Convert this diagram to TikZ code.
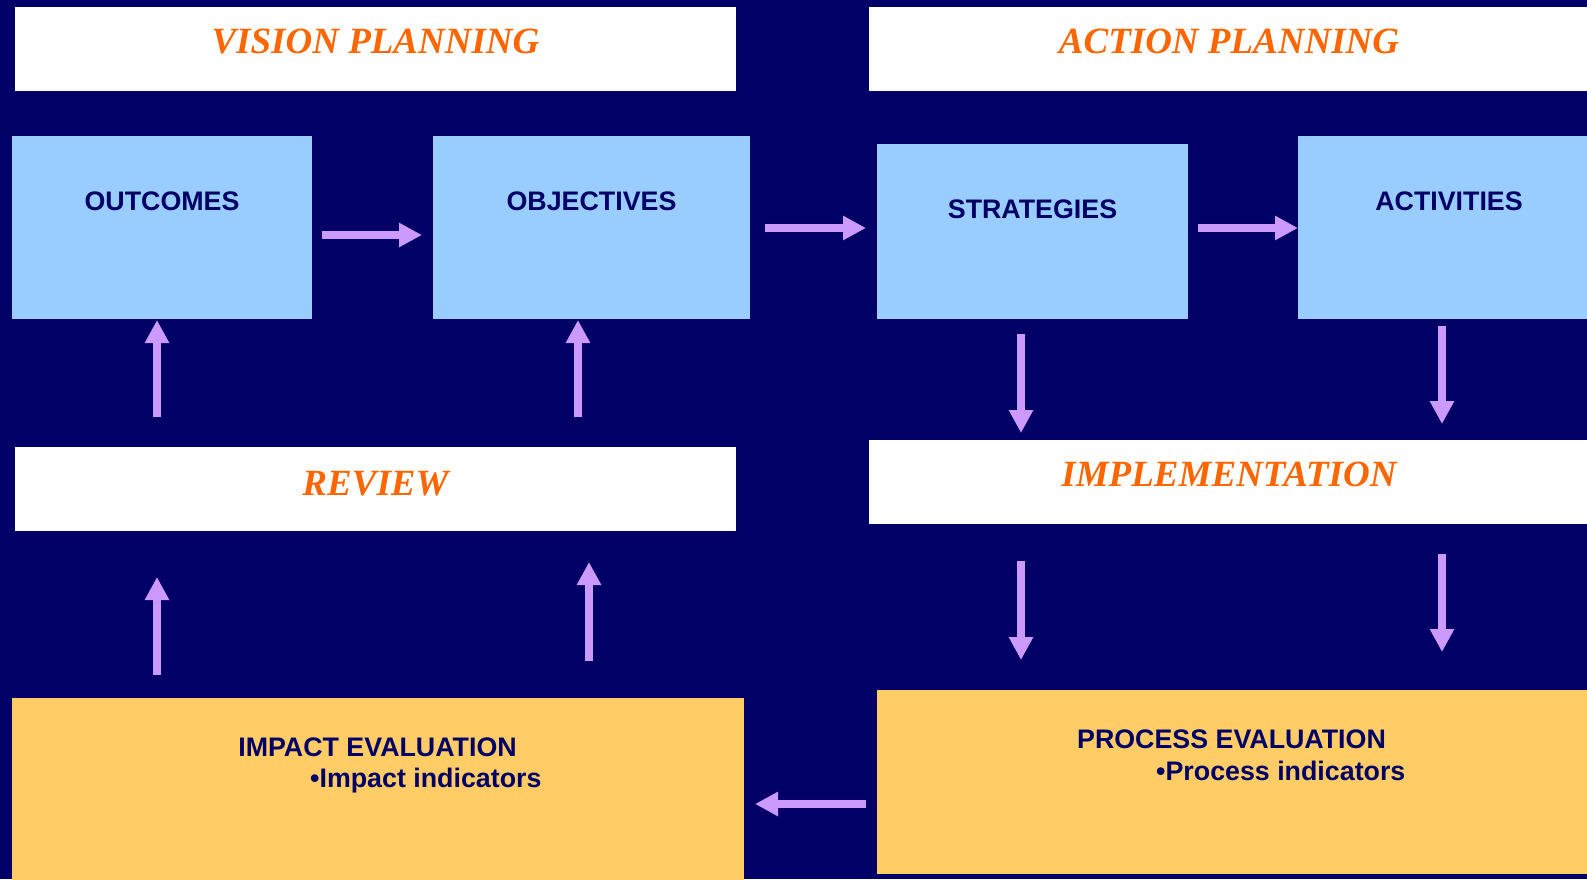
\documentclass[tikz,border=0pt]{standalone}
\usepackage{fontspec}
\setmainfont{Liberation Sans}
\newfontfamily\titlefont{Liberation Serif}
\usetikzlibrary{arrows.meta,calc}
\definecolor{navy}{HTML}{000066}
\definecolor{lblue}{HTML}{99CCFF}
\definecolor{lorange}{HTML}{FFCC66}
\definecolor{arrowc}{HTML}{CC99FF}
\definecolor{titlec}{HTML}{FF6600}
\tikzset{
  box/.style={draw=none, inner sep=0pt, outer sep=0pt, anchor=center},
  titlebox/.style={box, fill=white, minimum width=721pt, minimum height=84pt},
  bluebox/.style={box, fill=lblue},
  evalbox/.style={box, fill=lorange},
  titletext/.style={inner sep=0pt, anchor=base, text=titlec, font=\titlefont\bfseries\itshape\fontsize{37}{40}\selectfont},
  labeltext/.style={inner sep=0pt, anchor=base, text=navy, font=\bfseries\fontsize{26.8}{30}\selectfont},
  bullettext/.style={labeltext, anchor=base west},
  arr/.style={draw=arrowc, line width=8pt, -{Triangle[width=23pt,length=23pt]}}
}
\begin{document}
\begin{tikzpicture}[x=1pt,y=-1pt]
\fill[navy] (0,0) rectangle (1587,879);
\clip (0,0) rectangle (1587,879);
% title boxes
\node[titlebox] (vis) at (375.5,49) {};
\node[titlebox] (actp) at (1229.5,49) {};
\node[titlebox] (rev) at (375.5,489) {};
\node[titlebox] (impl) at (1229.5,482) {};
% blue boxes
\node[bluebox, minimum width=300pt, minimum height=183pt] (out) at (162,227.5) {};
\node[bluebox, minimum width=317pt, minimum height=183pt] (obj) at (591.5,227.5) {};
\node[bluebox, minimum width=311pt, minimum height=175pt] (strat) at (1032.5,231.5) {};
\node[bluebox, minimum width=302pt, minimum height=183pt] (actv) at (1449,227.5) {};
% evaluation boxes
\node[evalbox, minimum width=732pt, minimum height=192pt] (impact) at (378,794) {};
\node[evalbox, minimum width=723pt, minimum height=184pt] (proc) at (1238.5,782) {};
% titles
\node[titletext] (tvis) at (375.5,53) {VISION PLANNING};
\node[titletext] (tact) at (1229,53) {ACTION PLANNING};
\node[titletext] (trev) at (375.5,495) {REVIEW};
\node[titletext] (timpl) at (1229,486) {IMPLEMENTATION};
% labels
\node[labeltext] (tout) at (162,210) {OUTCOMES};
\node[labeltext] (tobj) at (591.5,210) {OBJECTIVES};
\node[labeltext] (tstrat) at (1032.5,218) {STRATEGIES};
\node[labeltext] (tactv) at (1449,210) {ACTIVITIES};
\node[labeltext] (timpact) at (377.5,756) {IMPACT EVALUATION};
\node[bullettext] (timpind) at (310,787) {•Impact indicators};
\node[labeltext] (tproc) at (1231.5,748) {PROCESS EVALUATION};
\node[bullettext] (tprocind) at (1156,780) {•Process indicators};
% arrows
\draw[arr] ($(out.east)+(10,7.5)$) -- ($(obj.west)+(-11,7.5)$);
\draw[arr] ($(obj.east)+(15,0.5)$) -- ($(strat.west)+(-11,-3.5)$);
\draw[arr] ($(strat.east)+(10,-3.5)$) -- ($(actv.west)+(0,0.5)$);
\draw[arr] ($(strat.south)+(-11.5,15)$) -- ($(impl.north)+(-208.5,-7)$);
\draw[arr] ($(actv.south)+(-7,7)$) -- ($(impl.north)+(212.5,-16)$);
\draw[arr] ($(impl.south)+(-208.5,37)$) -- ($(proc.north)+(-217.5,-30)$);
\draw[arr] ($(impl.south)+(212.5,30)$) -- ($(proc.north)+(203.5,-38)$);
\draw[arr] ($(proc.west)+(-11,22)$) -- ($(impact.east)+(11,10)$);
\draw[arr] ($(impact.north)+(-221,-23)$) -- ($(rev.south)+(-218.5,46)$);
\draw[arr] ($(impact.north)+(211,-37)$) -- ($(rev.south)+(213.5,31)$);
\draw[arr] ($(rev.north)+(-218.5,-30)$) -- ($(out.south)+(-5,1)$);
\draw[arr] ($(rev.north)+(202.5,-30)$) -- ($(obj.south)+(-13.5,1)$);
\end{tikzpicture}
\end{document}
